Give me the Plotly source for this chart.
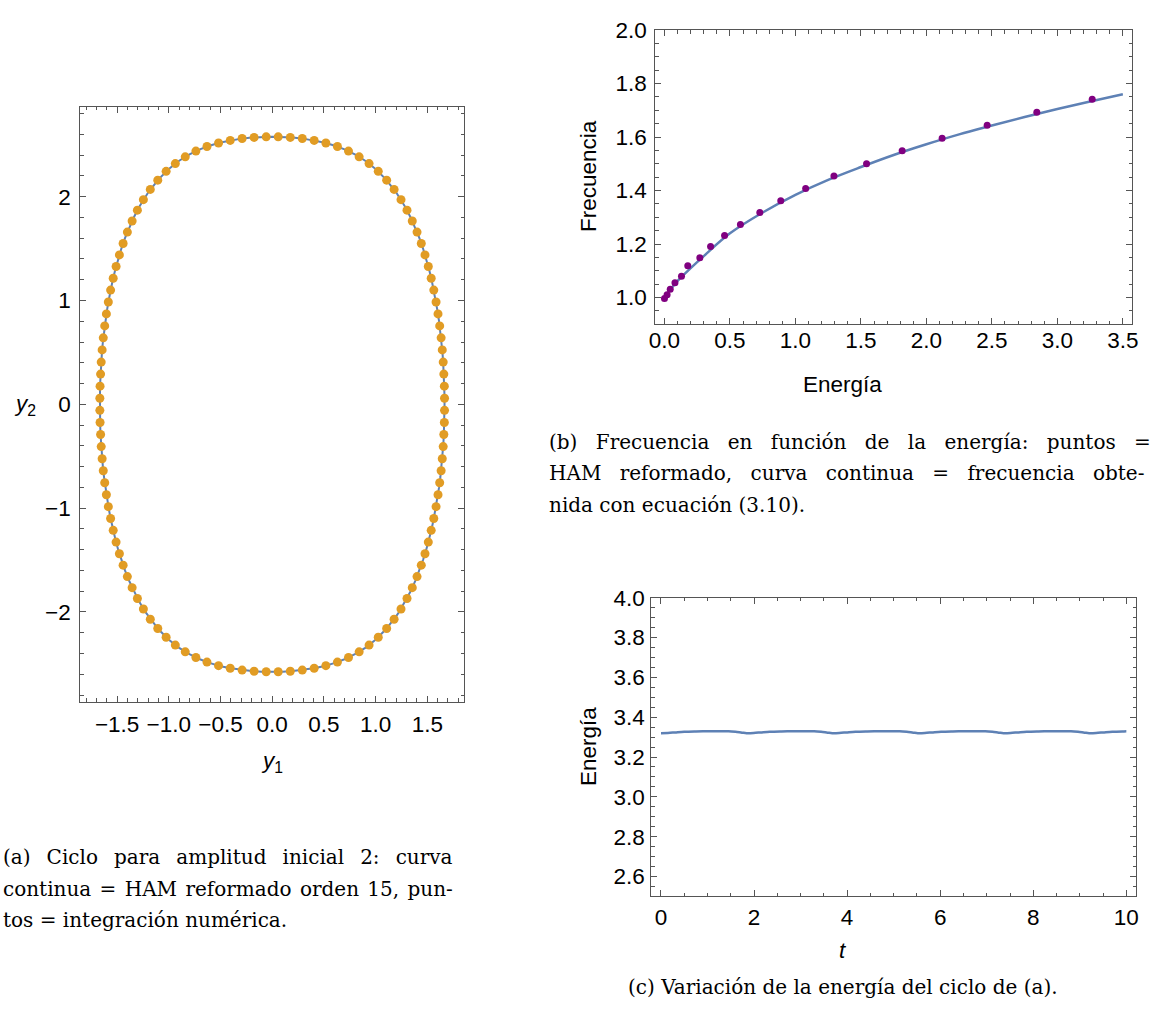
import plotly.graph_objects as go

W, H = 1153, 1017

# ---------------- panel (a): cycle in phase plane ----------------
curve_y1 = [0, 0.1, 0.2, 0.3, 0.4, 0.5, 0.6, 0.7, 0.8, 0.9, 1.0, 1.1, 1.2, 1.227, 1.287, 1.339, 1.384, 1.424, 1.459,
            1.490, 1.517, 1.542, 1.563, 1.582, 1.599, 1.614, 1.627, 1.638, 1.647, 1.654, 1.660, 1.664, 1.666, 1.667,
            1.666, 1.664, 1.660, 1.654, 1.647, 1.638, 1.627, 1.614, 1.599, 1.582, 1.563, 1.542, 1.517, 1.490, 1.459,
            1.424, 1.384, 1.339, 1.287, 1.227, 1.2, 1.1, 1.0, 0.9, 0.8, 0.7, 0.6, 0.5, 0.4, 0.3, 0.2, 0.1, 0.0,
            -0.1, -0.2, -0.3, -0.4, -0.5, -0.6, -0.7, -0.8, -0.9, -1.0, -1.1, -1.2, -1.227, -1.287, -1.339, -1.384,
            -1.424, -1.459, -1.490, -1.517, -1.542, -1.563, -1.582, -1.599, -1.614, -1.627, -1.638, -1.647, -1.654,
            -1.660, -1.664, -1.666, -1.667,
            -1.666, -1.664, -1.660, -1.654, -1.647, -1.638, -1.627, -1.614, -1.599, -1.582, -1.563, -1.542, -1.517,
            -1.490, -1.459, -1.424, -1.384, -1.339, -1.287, -1.227, -1.2, -1.1, -1.0, -0.9, -0.8, -0.7, -0.6, -0.5,
            -0.4, -0.3, -0.2, -0.1, 0.0]
curve_y2 = [2.577, 2.575, 2.569, 2.559, 2.543, 2.522, 2.493, 2.456, 2.407, 2.346, 2.267, 2.167, 2.040, 2.0, 1.9, 1.8,
            1.7, 1.6, 1.5, 1.4, 1.3, 1.2, 1.1, 1.0, 0.9, 0.8, 0.7, 0.6, 0.5, 0.4, 0.3, 0.2, 0.1, 0.0,
            -0.1, -0.2, -0.3, -0.4, -0.5, -0.6, -0.7, -0.8, -0.9, -1.0, -1.1, -1.2, -1.3, -1.4, -1.5, -1.6, -1.7,
            -1.8, -1.9, -2.0, -2.040, -2.167, -2.267, -2.346, -2.407, -2.456, -2.493, -2.522, -2.543, -2.559, -2.569,
            -2.575, -2.577,
            -2.575, -2.569, -2.559, -2.543, -2.522, -2.493, -2.456, -2.407, -2.346, -2.267, -2.167, -2.040, -2.0,
            -1.9, -1.8, -1.7, -1.6, -1.5, -1.4, -1.3, -1.2, -1.1, -1.0, -0.9, -0.8, -0.7, -0.6, -0.5, -0.4, -0.3,
            -0.2, -0.1, 0.0,
            0.1, 0.2, 0.3, 0.4, 0.5, 0.6, 0.7, 0.8, 0.9, 1.0, 1.1, 1.2, 1.3, 1.4, 1.5, 1.6, 1.7, 1.8, 1.9, 2.0,
            2.040, 2.167, 2.267, 2.346, 2.407, 2.456, 2.493, 2.522, 2.543, 2.559, 2.569, 2.575, 2.577]

dots_y1 = [0.058, 0.175, 0.291, 0.406, 0.519, 0.631, 0.738, 0.841, 0.937, 1.026, 1.107, 1.179, 1.246, 1.304, 1.355,
           1.401, 1.442, 1.478, 1.510, 1.538, 1.563, 1.585, 1.604, 1.620, 1.634, 1.645, 1.654, 1.660, 1.665, 1.667,
           1.667, 1.665, 1.660, 1.654, 1.645, 1.634, 1.620, 1.604, 1.585, 1.563, 1.538, 1.510, 1.478, 1.442, 1.401,
           1.355, 1.304, 1.246, 1.179, 1.107, 1.026, 0.937, 0.841, 0.738, 0.631, 0.519, 0.406, 0.291, 0.175, 0.058,
           -0.058, -0.175, -0.291, -0.406, -0.519, -0.631, -0.738, -0.841, -0.937, -1.026, -1.107, -1.179, -1.246,
           -1.304, -1.355, -1.401, -1.442, -1.478, -1.510, -1.538, -1.563, -1.585, -1.604, -1.620, -1.634, -1.645,
           -1.654, -1.660, -1.665, -1.667,
           -1.667, -1.665, -1.660, -1.654, -1.645, -1.634, -1.620, -1.604, -1.585, -1.563, -1.538, -1.510, -1.478,
           -1.442, -1.401, -1.355, -1.304, -1.246, -1.179, -1.107, -1.026, -0.937, -0.841, -0.738, -0.631, -0.519,
           -0.406, -0.291, -0.175, -0.058]
dots_y2 = [2.576, 2.571, 2.560, 2.542, 2.517, 2.483, 2.439, 2.384, 2.319, 2.244, 2.159, 2.070, 1.971, 1.870, 1.766,
           1.659, 1.549, 1.439, 1.327, 1.214, 1.100, 0.986, 0.871, 0.755, 0.640, 0.524, 0.407, 0.291, 0.175, 0.058,
           -0.058, -0.175, -0.291, -0.407, -0.524, -0.640, -0.755, -0.871, -0.986, -1.100, -1.214, -1.327, -1.439,
           -1.549, -1.659, -1.766, -1.870, -1.971, -2.070, -2.159, -2.244, -2.319, -2.384, -2.439, -2.483, -2.517,
           -2.542, -2.560, -2.571, -2.576,
           -2.576, -2.571, -2.560, -2.542, -2.517, -2.483, -2.439, -2.384, -2.319, -2.244, -2.159, -2.070, -1.971,
           -1.870, -1.766, -1.659, -1.549, -1.439, -1.327, -1.214, -1.100, -0.986, -0.871, -0.755, -0.640, -0.524,
           -0.407, -0.291, -0.175, -0.058,
           0.058, 0.175, 0.291, 0.407, 0.524, 0.640, 0.755, 0.871, 0.986, 1.100, 1.214, 1.327, 1.439, 1.549, 1.659,
           1.766, 1.870, 1.971, 2.070, 2.159, 2.244, 2.319, 2.384, 2.439, 2.483, 2.517, 2.542, 2.560, 2.571, 2.576]

# ---------------- panel (b): frequency vs energy ----------------
freq_curve_E = [0, 0.05, 0.1, 0.2, 0.3, 0.5, 0.75, 1.0, 1.25, 1.5, 1.75, 2.0, 2.25, 2.5, 2.75, 3.0, 3.25, 3.5]
freq_curve_w = [1.0, 1.033, 1.062, 1.11, 1.155, 1.24, 1.318, 1.384, 1.440, 1.488, 1.533, 1.573, 1.610, 1.643,
                1.675, 1.705, 1.733, 1.760]
ham_E = [0.0, 0.02, 0.044, 0.08, 0.13, 0.178, 0.27, 0.352, 0.459, 0.58, 0.728, 0.888, 1.078, 1.294, 1.543, 1.815,
         2.12, 2.464, 2.843, 3.266]
ham_w = [0.996, 1.01, 1.031, 1.055, 1.080, 1.119, 1.149, 1.191, 1.232, 1.273, 1.318, 1.362, 1.408, 1.454, 1.500,
         1.549, 1.596, 1.644, 1.693, 1.741]

# ---------------- panel (c): energy vs time ----------------
t_vals = [0, 0.15, 0.3, 0.5, 0.75, 1.0, 1.25, 1.45, 1.6, 1.74,
          1.84, 1.99, 2.14, 2.34, 2.59, 2.84, 3.09, 3.29, 3.44, 3.58,
          3.68, 3.83, 3.98, 4.18, 4.43, 4.68, 4.93, 5.13, 5.28, 5.42,
          5.52, 5.67, 5.82, 6.02, 6.27, 6.52, 6.77, 6.97, 7.12, 7.26,
          7.36, 7.51, 7.66, 7.86, 8.11, 8.36, 8.61, 8.81, 8.96, 9.10,
          9.2, 9.35, 9.5, 9.7, 9.95, 10.0]
energy_vals = [3.320, 3.3208, 3.3235, 3.3272, 3.3288, 3.3293, 3.3300, 3.3293, 3.3265, 3.3225,
               3.320, 3.3208, 3.3235, 3.3272, 3.3288, 3.3293, 3.3300, 3.3293, 3.3265, 3.3225,
               3.320, 3.3208, 3.3235, 3.3272, 3.3288, 3.3293, 3.3300, 3.3293, 3.3265, 3.3225,
               3.320, 3.3208, 3.3235, 3.3272, 3.3288, 3.3293, 3.3300, 3.3293, 3.3265, 3.3225,
               3.320, 3.3208, 3.3235, 3.3272, 3.3288, 3.3293, 3.3300, 3.3293, 3.3265, 3.3225,
               3.320, 3.3208, 3.3235, 3.3272, 3.3288, 3.3290]

a_xticks = [-1.5, -1.0, -0.5, 0.0, 0.5, 1.0, 1.5]
a_yticks = [-2, -1, 0, 1, 2]
b_xticks = [0.0, 0.5, 1.0, 1.5, 2.0, 2.5, 3.0, 3.5]
b_yticks = [1.0, 1.2, 1.4, 1.6, 1.8, 2.0]
c_xticks = [0, 2, 4, 6, 8, 10]
c_yticks = [2.6, 2.8, 3.0, 3.2, 3.4, 3.6, 3.8, 4.0]

BLUE = "#5E81B5"
ORANGE = "#E19C24"
PURPLE = "#800080"
FRAME = "#555555"
SANS = "Liberation Sans, Arial, sans-serif"
TICKFONT = dict(family=SANS, size=22.5, color="black")
AXFONT = dict(family=SANS, size=22.5, color="black")
CAPFONT = dict(family="DejaVu Serif, serif", size=20, color="black")


def px(x):
    return x / W


def py(y):
    return 1 - y / H


fig = go.Figure()
fig.add_trace(go.Scatter(x=curve_y1, y=curve_y2, mode="lines", line=dict(color=BLUE, width=2),
                         xaxis="x", yaxis="y", showlegend=False))
fig.add_trace(go.Scatter(x=dots_y1, y=dots_y2, mode="markers", marker=dict(color=ORANGE, size=9),
                         xaxis="x", yaxis="y", showlegend=False))
fig.add_trace(go.Scatter(x=freq_curve_E, y=freq_curve_w, mode="lines",
                         line=dict(color=BLUE, width=2.5, shape="spline"),
                         xaxis="x2", yaxis="y2", showlegend=False))
fig.add_trace(go.Scatter(x=ham_E, y=ham_w, mode="markers", marker=dict(color=PURPLE, size=7),
                         xaxis="x2", yaxis="y2", showlegend=False))
fig.add_trace(go.Scatter(x=t_vals, y=energy_vals, mode="lines", line=dict(color=BLUE, width=2.5, shape="spline"),
                         xaxis="x3", yaxis="y3", showlegend=False))


def axis(domain, rng, tickvals, fmt, minor_dtick, anchor, standoff):
    return dict(domain=domain, range=rng, tickvals=tickvals, tickformat=fmt, anchor=anchor,
                showgrid=False, zeroline=False, showline=True, linecolor=FRAME, linewidth=1,
                mirror="allticks", ticks="inside", ticklen=6, tickcolor=FRAME, tickwidth=1,
                tickfont=TICKFONT, ticklabelstandoff=standoff,
                minor=dict(dtick=minor_dtick, ticks="inside", ticklen=3.5, tickcolor=FRAME, tickwidth=1,
                           showgrid=False))


fig.update_layout(
    width=W, height=H, autosize=False, margin=dict(l=0, r=0, t=0, b=0),
    paper_bgcolor="white", plot_bgcolor="white",
    xaxis=axis([px(75), px(463)], [-1.857, 1.857], a_xticks, ".1f", 0.1, "y", 2),
    yaxis=axis([py(698), py(96)], [-2.865, 2.865], a_yticks, "d", 0.2, "x", 4),
    xaxis2=axis([px(656), px(1138)], [-0.071, 3.571], b_xticks, ".1f", 0.1, "y2", -4),
    yaxis2=axis([py(316), py(18.3)], [0.9, 2.0], b_yticks, ".1f", 0.05, "x2", 3),
    xaxis3=axis([px(652), px(1142)], [-0.21, 10.21], c_xticks, "d", 0.5, "y3", 1),
    yaxis3=axis([py(895), py(592.7)], [2.5, 4.0], c_yticks, ".1f", 0.05, "x3", 1),
)

ann = []
ann.append(dict(x=px(269), y=py(759), text="<i>y</i><sub>1</sub>", font=AXFONT))
ann.append(dict(x=px(19), y=py(398), text="<i>y</i><sub>2</sub>", font=AXFONT))
ann.append(dict(x=px(845), y=py(377), text="Energía", font=AXFONT))
ann.append(dict(x=px(588), y=py(166), text="Frecuencia", font=AXFONT, textangle=-90))
ann.append(dict(x=px(846), y=py(950), text="<i>t</i>", font=AXFONT))
ann.append(dict(x=px(588), y=py(743), text="Energía", font=AXFONT, textangle=-90))

# caption lines (justified lines get wider word gaps)
cap_a = [["(a)", "Ciclo", "para", "amplitud", "inicial", "2:", "curva"],
         ["continua", "=", "HAM", "reformado", "orden", "15,", "pun-"],
         ["tos", "=", "integración", "numérica."]]
cap_a_gaps = [" \u00a0\u2006", " \u200a", " "]
cap_b = [["(b)", "Frecuencia", "en", "función", "de", "la", "energía:", "puntos", "="],
         ["HAM", "reformado,", "curva", "continua", "=", "frecuencia", "obte-"],
         ["nida", "con", "ecuación", "(3.10)."]]
cap_b_gaps = [" \u2002\u200a", " \u2002\u200a", " "]
cap_c = "(c) Variación de la energía del ciclo de (a)."

for i, (words, gap) in enumerate(zip(cap_a, cap_a_gaps)):
    ann.append(dict(x=px(-5), y=py(855 + 32 * i), text=gap.join(words), font=CAPFONT, xanchor="left"))
for i, (words, gap) in enumerate(zip(cap_b, cap_b_gaps)):
    ann.append(dict(x=px(547), y=py(435 + 32 * i), text=gap.join(words), font=CAPFONT, xanchor="left"))
ann.append(dict(x=px(846), y=py(987), text=cap_c, font=CAPFONT, xanchor="center"))

for a in ann:
    a.setdefault("xanchor", "center")
    a.update(xref="paper", yref="paper", yanchor="middle", showarrow=False)
fig.update_layout(annotations=ann)

fig.write_html("out.html")
